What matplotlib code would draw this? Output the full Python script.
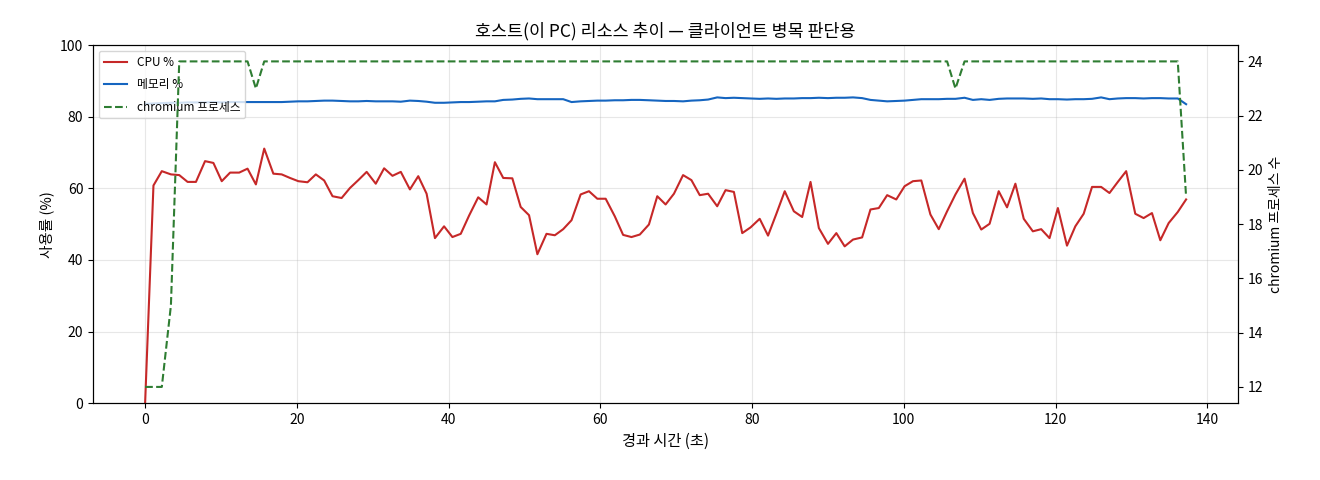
import matplotlib
matplotlib.use("Agg")
import matplotlib.pyplot as plt

plt.rcParams['font.family'] = ['Noto Sans CJK KR', 'DejaVu Sans']

# elapsed seconds of each sample
elapsed = [
    0.0, 1.1, 2.2, 3.4, 4.5, 5.6, 6.7, 7.9, 9.0, 10.1,
    11.2, 12.4, 13.5, 14.6, 15.7, 16.9, 18.0, 19.1, 20.2, 21.4,
    22.5, 23.6, 24.7, 25.9, 27.0, 28.1, 29.2, 30.4, 31.5, 32.6,
    33.7, 34.9, 36.0, 37.1, 38.2, 39.4, 40.5, 41.6, 42.7, 43.9,
    45.0, 46.1, 47.2, 48.4, 49.5, 50.6, 51.7, 52.9, 54.0, 55.1,
    56.2, 57.4, 58.5, 59.6, 60.7, 61.9, 63.0, 64.1, 65.2, 66.4,
    67.5, 68.6, 69.7, 70.9, 72.0, 73.1, 74.2, 75.4, 76.5, 77.6,
    78.7, 79.8, 81.0, 82.1, 83.2, 84.3, 85.5, 86.6, 87.7, 88.8,
    90.0, 91.1, 92.2, 93.3, 94.5, 95.6, 96.7, 97.8, 99.0, 100.1,
    101.2, 102.3, 103.5, 104.6, 105.7, 106.8, 108.0, 109.1, 110.2, 111.3,
    112.5, 113.6, 114.7, 115.8, 117.0, 118.1, 119.2, 120.3, 121.5, 122.6,
    123.7, 124.8, 126.0, 127.1, 128.2, 129.3, 130.5, 131.6, 132.7, 133.8,
    134.9, 136.1, 137.2,
]

cpu_pct = [
    0.0,
    60.8, 64.8, 63.9, 63.7, 61.8, 61.8, 67.6, 67.1, 62.0, 64.4,
    64.4, 65.5, 61.1, 71.1, 64.1, 63.9, 62.9, 62.0, 61.7, 63.9,
    62.2, 57.8, 57.3, 60.1, 62.3, 64.6, 61.3, 65.6, 63.5, 64.6,
    59.7, 63.4, 58.5, 46.1, 49.4, 46.4, 47.3, 52.4, 57.5, 55.5,
    67.3, 62.9, 62.8, 54.8, 52.5, 41.6, 47.3, 46.9, 48.6, 51.1,
    58.3, 59.2, 57.1, 57.1, 52.2, 47.0, 46.4, 47.1, 49.9,
    57.8, 55.5, 58.5, 63.7, 62.3, 58.1, 58.5, 55.0, 59.5, 59.0,
    47.5, 49.1, 51.5, 46.8, 52.9, 59.2, 53.6, 52.0, 61.8, 48.9,
    44.5, 47.5, 43.8, 45.7, 46.3, 54.1, 54.5, 58.1, 56.9,
    60.6, 62.0, 62.2, 52.7, 48.6, 53.6, 58.3, 62.7, 53.1, 48.5,
    50.1, 59.2, 54.7, 61.3, 51.5, 48.0, 48.6, 46.1, 54.5, 44.0,
    49.4, 52.9, 60.4, 60.4, 58.7, 61.8, 64.8, 52.9, 51.7, 53.1,
    45.5, 50.3, 53.4, 56.9,
]

mem_pct = [
    83.6, 83.7, 83.8, 83.9, 83.9, 84.0, 84.0, 84.0, 84.1, 84.0,
    84.1, 84.1, 84.1, 84.1, 84.1, 84.1, 84.1, 84.2, 84.3, 84.3,
    84.4, 84.5, 84.5, 84.4, 84.3, 84.3, 84.4, 84.3, 84.3, 84.3,
    84.2, 84.5, 84.4, 84.2, 83.9, 83.9, 84.0, 84.1, 84.1, 84.2,
    84.3, 84.3, 84.7, 84.8, 85.0, 85.1, 84.9, 84.9, 84.9, 84.9,
    84.1, 84.3, 84.4, 84.5, 84.5, 84.6, 84.6, 84.7, 84.7, 84.6,
    84.5, 84.4, 84.4, 84.3, 84.5, 84.6, 84.8, 85.4, 85.2, 85.3,
    85.2, 85.1, 85.0, 85.1, 85.0, 85.1, 85.1, 85.2, 85.2, 85.3,
    85.2, 85.3, 85.3, 85.4, 85.2, 84.7, 84.5, 84.3, 84.4, 84.5,
    84.7, 84.9, 84.9, 84.9, 85.0, 85.0, 85.3, 84.7, 84.9, 84.7,
    85.0, 85.1, 85.1, 85.1, 85.0, 85.1, 84.9, 84.9, 84.8, 84.9,
    84.9, 85.0, 85.4, 84.9, 85.1, 85.2, 85.2, 85.1, 85.2, 85.2,
    85.1, 85.1, 83.5,
]

chromium_procs = [
    12, 12, 12, 15, 24, 24, 24, 24, 24, 24,
    24, 24, 24, 23, 24, 24, 24, 24, 24, 24,
    24, 24, 24, 24, 24, 24, 24, 24, 24, 24,
    24, 24, 24, 24, 24, 24, 24, 24, 24, 24,
    24, 24, 24, 24, 24, 24, 24, 24, 24, 24,
    24, 24, 24, 24, 24, 24, 24, 24, 24, 24,
    24, 24, 24, 24, 24, 24, 24, 24, 24, 24,
    24, 24, 24, 24, 24, 24, 24, 24, 24, 24,
    24, 24, 24, 24, 24, 24, 24, 24, 24, 24,
    24, 24, 24, 24, 24, 23, 24, 24, 24, 24,
    24, 24, 24, 24, 24, 24, 24, 24, 24, 24,
    24, 24, 24, 24, 24, 24, 24, 24, 24, 24,
    24, 24, 19,
]

fig, ax = plt.subplots(figsize=(13.2, 4.8), dpi=100)
fig.subplots_adjust(left=0.0705, right=0.938, top=0.906, bottom=0.16)

# CPU / memory on the left axis
l_cpu, = ax.plot(elapsed, cpu_pct, color="#c62828", linewidth=1.5, label="CPU %")
l_mem, = ax.plot(elapsed, mem_pct, color="#1565c0", linewidth=1.5, label="메모리 %")
ax.set_ylim(0, 100)
ax.set_xlabel("경과 시간 (초)", fontsize=11)
ax.set_ylabel("사용률 (%)", fontsize=10.5)
ax.grid(True, alpha=0.3)
ax.tick_params(labelsize=10)

# process count on the right axis
ax2 = ax.twinx()
l_proc, = ax2.plot(elapsed, chromium_procs, color="#2e7d32", linestyle="--",
                   linewidth=1.5, label="chromium 프로세스")
ax2.set_ylabel("chromium 프로세스 수", fontsize=10)
ax2.tick_params(labelsize=10)

ax.legend(handles=[l_cpu, l_mem, l_proc], loc="upper left", fontsize=8.5,
          labelspacing=0.8)
ax.set_title("호스트(이 PC) 리소스 추이 — 클라이언트 병목 판단용", fontsize=12.5)

plt.savefig("out.png", dpi=100)
